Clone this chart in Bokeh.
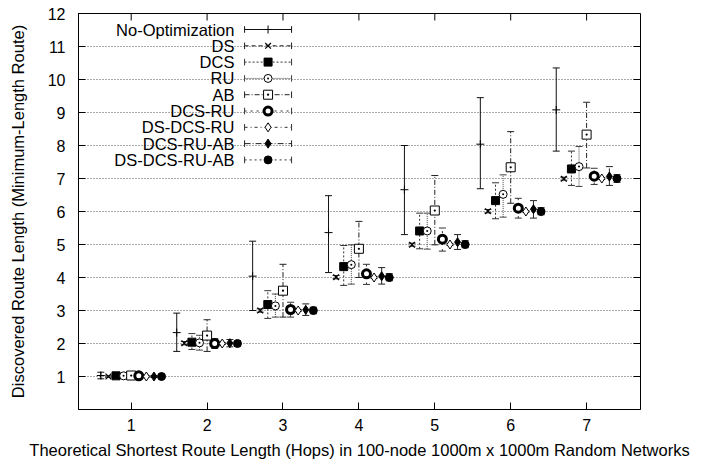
import math
from bokeh.plotting import figure
from bokeh.models import (ColumnDataSource, Whisker, TeeHead, FixedTicker, Range1d)
from bokeh.core.properties import value
from bokeh.embed import file_html
from bokeh.resources import INLINE

hops = [1, 2, 3, 4, 5, 6, 7]
y_ticks = [1, 2, 3, 4, 5, 6, 7, 8, 9, 10, 11, 12]

names = ["No-Optimization", "DS", "DCS", "RU", "AB", "DCS-RU", "DS-DCS-RU", "DCS-RU-AB", "DS-DCS-RU-AB"]

noopt_mean = [1.03, 2.33, 4.04, 5.36, 6.66, 8.04, 9.08]
noopt_low = [0.93, 1.76, 3.00, 4.15, 5.30, 6.69, 7.83]
noopt_high = [1.13, 2.92, 5.10, 6.48, 8.00, 9.45, 10.35]

ds_mean = [1.00, 2.01, 3.00, 4.01, 4.99, 6.01, 6.99]
ds_low = [0.98, 1.96, 2.95, 3.96, 4.95, 5.96, 6.95]
ds_high = [1.02, 2.06, 3.05, 4.06, 5.04, 6.06, 7.04]

dcs_mean = [1.02, 2.04, 3.18, 4.33, 5.41, 6.33, 7.29]
dcs_low = [0.98, 1.82, 2.76, 3.76, 4.87, 5.78, 6.79]
dcs_high = [1.06, 2.30, 3.60, 4.97, 5.95, 6.87, 7.83]

ru_mean = [1.02, 2.02, 3.14, 4.39, 5.41, 6.52, 7.36]
ru_low = [0.98, 1.80, 2.80, 3.80, 4.86, 5.83, 6.76]
ru_high = [1.06, 2.25, 3.50, 4.99, 5.95, 7.11, 7.97]

ab_mean = [1.03, 2.24, 3.60, 4.87, 6.03, 7.34, 8.33]
ab_low = [0.98, 1.76, 2.80, 4.00, 4.99, 6.25, 7.32]
ab_high = [1.08, 2.72, 4.40, 5.70, 7.09, 8.42, 9.31]

dcsru_mean = [1.02, 2.00, 3.03, 4.11, 5.16, 6.10, 7.07]
dcsru_low = [0.98, 1.85, 2.80, 3.79, 4.80, 5.80, 6.82]
dcsru_high = [1.06, 2.15, 3.25, 4.40, 5.50, 6.40, 7.31]

dsdcsru_mean = [1.00, 2.00, 3.00, 4.00, 5.00, 6.00, 7.00]
dsdcsru_low = [0.98, 1.97, 2.97, 3.97, 4.97, 5.97, 6.97]
dsdcsru_high = [1.02, 2.03, 3.03, 4.03, 5.03, 6.03, 7.03]

dcsruab_mean = [1.00, 2.01, 3.02, 4.04, 5.07, 6.07, 7.06]
dcsruab_low = [0.97, 1.90, 2.85, 3.80, 4.85, 5.80, 6.79]
dcsruab_high = [1.03, 2.12, 3.20, 4.30, 5.30, 6.33, 7.36]

all_mean = [1.00, 2.00, 3.00, 4.00, 5.00, 6.00, 7.00]
all_low = [0.98, 1.92, 2.90, 3.90, 4.90, 5.90, 6.88]
all_high = [1.02, 2.08, 3.10, 4.12, 5.12, 6.12, 7.12]

means = [noopt_mean, ds_mean, dcs_mean, ru_mean, ab_mean, dcsru_mean, dsdcsru_mean, dcsruab_mean, all_mean]
lows = [noopt_low, ds_low, dcs_low, ru_low, ab_low, dcsru_low, dsdcsru_low, dcsruab_low, all_low]
highs = [noopt_high, ds_high, dcs_high, ru_high, ab_high, dcsru_high, dsdcsru_high, dcsruab_high, all_high]

# styles
dashes = ["solid", "4 3", "2 2", "1 1", "5 2 1 2", "2 4", "3 3 1 3", "6 2 1 2", "2 3"]
line_cols = ["#111111", "#222222", "#333333", "#444444", "#222222", "#333333", "#333333", "#222222", "#333333"]
markers = [
    dict(marker="cross", size=8, line_color="black", fill_color="black", line_width=1),
    dict(marker="x", size=8, line_color="black", fill_color="black", line_width=1.2),
    dict(marker="square", size=8, line_color="black", fill_color="black", line_width=1),
    dict(marker="circle_dot", size=8, line_color="black", fill_color="white", line_width=1),
    dict(marker="square_dot", size=9, line_color="black", fill_color="white", line_width=1),
    dict(marker="circle", size=8, line_color="black", fill_color="white", line_width=3),
    dict(marker="diamond", size=9, line_color="black", fill_color="white", line_width=1),
    dict(marker="diamond", size=9, line_color="black", fill_color="black", line_width=1),
    dict(marker="circle", size=8, line_color="black", fill_color="black", line_width=1),
]

FONT = "Liberation Sans"
X_MIN, X_MAX = 0.306, 7.71
Y_MIN, Y_MAX = 0, 12

p = figure(width=702, height=464, output_backend="svg", toolbar_location=None,
           x_range=Range1d(X_MIN, X_MAX), y_range=Range1d(Y_MIN, Y_MAX),
           min_border_left=78, min_border_right=62, min_border_top=13, min_border_bottom=55)
p.background_fill_color = "white"
p.border_fill_color = "white"
p.outline_line_color = "black"
p.outline_line_width = 1

p.xgrid.visible = False
p.ygrid.ticker = FixedTicker(ticks=y_ticks)
p.ygrid.grid_line_color = "#555555"
p.ygrid.grid_line_dash = "1 2"
p.ygrid.grid_line_width = 1

for ax, ticks in ((p.xaxis[0], hops), (p.yaxis[0], y_ticks)):
    ax.ticker = FixedTicker(ticks=ticks)
    ax.major_tick_in = 7
    ax.major_tick_out = 0
    ax.minor_tick_line_color = None
    ax.major_label_text_font = FONT
    ax.major_label_text_font_size = "16px"
    ax.major_label_text_color = "black"
    ax.axis_label_text_font = FONT
    ax.axis_label_text_font_size = "16.5px"
    ax.axis_label_text_font_style = "normal"
    ax.axis_label_text_color = "black"
    ax.axis_line_color = "black"
    ax.major_tick_line_color = "black"

p.xaxis.axis_label = "Theoretical Shortest Route Length (Hops) in 100-node 1000m x 1000m Random Networks"
p.yaxis.axis_label = "Discovered Route Length (Minimum-Length Route)"
p.xaxis.major_label_standoff = 9
p.xaxis.axis_label_standoff = 7
p.yaxis.major_label_standoff = 13
p.yaxis.axis_label_standoff = 18

# mirrored inward ticks on the top and right borders (clipped to the frame)
p.scatter(x=hops, y=[Y_MAX] * len(hops), marker="dash", angle=math.pi / 2, size=14,
          line_color="black", line_width=1)
p.scatter(x=[X_MAX] * len(y_ticks), y=y_ticks, marker="dash", size=14,
          line_color="black", line_width=1)

# error bars + markers
for i in range(len(names)):
    offset = (i - 4) * 0.1
    xs = [h + offset for h in hops]
    src = ColumnDataSource(dict(x=xs, y=means[i], lo=lows[i], hi=highs[i]))
    w = Whisker(source=src, base="x", lower="lo", upper="hi",
                line_color=line_cols[i], line_width=1, line_dash=dashes[i],
                lower_head=TeeHead(size=7, line_color=line_cols[i], line_width=1),
                upper_head=TeeHead(size=7, line_color=line_cols[i], line_width=1))
    p.add_layout(w)
    p.scatter(x="x", y="y", source=src, **markers[i])

# legend (label left, sample right, gnuplot style)
leg_text_x = 2.36
leg_x0, leg_x1 = 2.494, 3.113
leg_xm = (leg_x0 + leg_x1) / 2
leg_y0 = 11.515
leg_dy = 0.494
leg_ys = [leg_y0 - i * leg_dy for i in range(len(names))]
p.text(x=[leg_text_x] * len(names), y=leg_ys, text=names, text_align="right",
       text_baseline="middle", text_font=value(FONT), text_font_size="16.5px",
       text_color="black")
for i in range(len(names)):
    yy = leg_ys[i]
    p.segment(x0=[leg_x0], x1=[leg_x1], y0=[yy], y1=[yy], line_color=line_cols[i],
              line_width=1, line_dash=dashes[i])
    p.segment(x0=[leg_x0, leg_x1], x1=[leg_x0, leg_x1], y0=[yy - 0.1, yy - 0.1],
              y1=[yy + 0.1, yy + 0.1], line_color=line_cols[i], line_width=1)
    p.scatter(x=[leg_xm], y=[yy], **markers[i])

open("out.html", "w").write(file_html(p, INLINE))
